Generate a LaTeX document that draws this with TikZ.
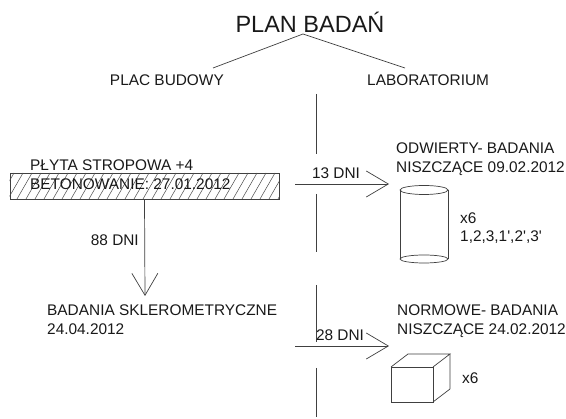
\documentclass[tikz,border=0pt]{standalone}
\usepackage{fontspec}
\setmainfont{Liberation Sans}
\usetikzlibrary{arrows.meta}
\begin{document}
\begin{tikzpicture}[x=1pt,y=-1pt,
  txt/.style={inner sep=0pt,font=\fontsize{15.4}{18.5}\selectfont,text=black!90,align=left},
  ln/.style={draw=black!75,line width=0.7pt},
  arr/.style={ln,-{Straight Barb[length=22pt,width=26pt]}}]
\useasboundingbox[fill=white] (0,0) rectangle (566,419);
% title and branches
\node[inner sep=0pt,font=\fontsize{23.5}{26}\selectfont,text=black!90] (title) at (310,22) {PLAN BADAŃ};
\coordinate (apex) at (303,34);
\coordinate (pl) at (213,68);
\coordinate (lb) at (405,68);
\draw[ln] (apex) -- (pl);
\draw[ln] (apex) -- (lb);
\node[txt,anchor=east] (plac) at (224,80) {PLAC BUDOWY};
\node[txt,anchor=west] (lab) at (367,80) {LABORATORIUM};
% dividing line
\foreach \a/\b [count=\i] in {94/154,194/252,285/342,368/417}{
  \coordinate (v\i a) at (316,\a);
  \coordinate (v\i b) at (316,\b);
  \draw[ln] (v\i a) -- (v\i b);
}
% hatched slab
\node[draw=black!75,line width=0.7pt,minimum width=269pt,minimum height=26pt,inner sep=0pt] (box) at (144.5,186) {};
\begin{scope}
  \clip (box.south west) rectangle (box.north east);
  \foreach \x in {-10,-1,...,290}{
    \draw[black!70,line width=0.5pt] (\x,199) -- (\x+15,173);
  }
\end{scope}
\node[txt,anchor=west] (plyta) at (30,174.5) {PŁYTA STROPOWA +4\\BETONOWANIE: 27.01.2012};
% 88 DNI
\coordinate (tip88) at (145,296);
\draw[arr] (box.south) -- (tip88);
\node[txt,anchor=east] (d88) at (139,240) {88 DNI};
\node[txt,anchor=west] (sklero) at (47,319.5) {BADANIA SKLEROMETRYCZNE\\24.04.2012};
% 13 DNI
\coordinate (s13) at (295,184);
\coordinate (t13) at (389,184);
\draw[arr] (s13) -- (t13);
\node[txt] (d13) at (336,173) {13 DNI};
\node[txt,anchor=west] (odw) at (396,159) {ODWIERTY- BADANIA\\NISZCZĄCE 09.02.2012};
% cylinder
\draw[ln] (424,190) ellipse [x radius=24,y radius=4.5];
\draw[ln] (400,190) -- (400,259);
\draw[ln] (448,190) -- (448,259);
\draw[ln] (424,259) ellipse [x radius=24,y radius=4];
\node[txt,anchor=west] (x6a) at (460,228) {x6\\1,2,3,1\textquotesingle,2\textquotesingle,3\textquotesingle};
% 28 DNI
\coordinate (s28) at (295,346);
\coordinate (t28) at (389,346);
\draw[arr] (s28) -- (t28);
\node[txt] (d28) at (340,335) {28 DNI};
\node[txt,anchor=west] (norm) at (397,321) {NORMOWE- BADANIA\\NISZCZĄCE 24.02.2012};
% cube
\draw[ln] (391,367) rectangle (433,402);
\draw[ln] (391,367) -- (408,354) -- (450,354) -- (433,367);
\draw[ln] (450,354) -- (450,389) -- (433,402);
\node[txt,anchor=west] (x6b) at (462,378) {x6};
\end{tikzpicture}
\end{document}
